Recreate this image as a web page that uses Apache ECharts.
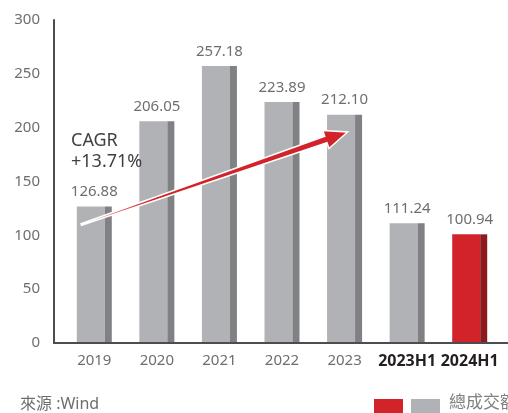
<!DOCTYPE html>
<html>
<head>
<meta charset="utf-8">
<script src="https://cdn.jsdelivr.net/npm/echarts@6/dist/echarts.min.js"></script>
<style>
  html, body { margin: 0; padding: 0; background: #fff; }
  #chart { width: 508px; height: 413px; }
</style>
</head>
<body>
<div id="chart"></div>
<script>
// data
const categories = ['2019', '2020', '2021', '2022', '2023', '2023H1', '2024H1'];
const turnover = [126.88, 206.05, 257.18, 223.89, 212.10, 111.24, 100.94];
const boldCats = ['2023H1', '2024H1'];
const highlightIndex = 6;
const yTicks = [0, 50, 100, 150, 200, 250, 300];
const cagrText = 'CAGR\n+13.71%';
const legendName = '總成交額';
const sourceText = '來源 :Wind';

const font = "'Noto Sans', 'Noto Sans CJK TC', sans-serif";
const textGray = '#6d6e71';

const chart = echarts.init(document.getElementById('chart'));

chart.setOption({
  animation: false,
  textStyle: { fontFamily: font },
  grid: { left: 63, right: 7, top: 20, bottom: 70 },
  xAxis: {
    type: 'category',
    data: categories.map(c => boldCats.includes(c)
      ? { value: c, textStyle: { fontWeight: 'bold', color: '#231f20', fontSize: 16 } }
      : c),
    axisLine: { show: false },
    axisTick: { show: false },
    axisLabel: { color: textGray, fontSize: 15, margin: 10, interval: 0 }
  },
  yAxis: {
    type: 'value',
    min: yTicks[0],
    max: yTicks[yTicks.length - 1],
    interval: 50,
    offset: 9,
    axisLine: { show: true, lineStyle: { color: '#4d4d4f', width: 2 } },
    axisTick: { show: false },
    splitLine: { show: false },
    axisLabel: { color: textGray, fontSize: 15, margin: 14 }
  },
  series: [
    {
      name: legendName,
      type: 'bar',
      data: turnover,
      barWidth: 28,
      barGap: '0%',
      itemStyle: {
        color: p => p.dataIndex === highlightIndex ? '#d2232a' : '#b1b2b5'
      },
      label: {
        show: true,
        position: 'top',
        distance: 7,
        offset: [3.5, 0],
        color: textGray,
        fontSize: 15,
        formatter: p => p.value.toFixed(2)
      }
    },
    {
      name: 'side',
      type: 'bar',
      data: turnover,
      barWidth: 7,
      barGap: '0%',
      itemStyle: {
        color: p => p.dataIndex === highlightIndex ? '#8c1a1f' : '#808184'
      }
    }
  ]
});

// annotations placed from data coordinates
const toPx = (i, v) => chart.convertToPixel({ xAxisIndex: 0, yAxisIndex: 0 }, [i, v]);
const zero = toPx(0, 0);
const start = toPx(0, 110); start[0] -= 13;
const tip = toPx(4, 196); tip[0] += 3;

const dx = tip[0] - start[0], dy = tip[1] - start[1];
const len = Math.hypot(dx, dy);
const ux = dx / len, uy = dy / len, nx = -uy, ny = ux;
const headLen = 23;
const base = [tip[0] - ux * headLen, tip[1] - uy * headLen];
const pt = (p, w) => [p[0] + nx * w, p[1] + ny * w];
const arrowPts = [
  pt(start, 0.8), pt(base, 3.4), pt(base, 9.5), tip,
  pt(base, -9.5), pt(base, -3.4), pt(start, -0.8)
];

chart.setOption({
  graphic: [
    {
      type: 'line',
      shape: { x1: 53, y1: zero[1], x2: 508, y2: zero[1] },
      style: { stroke: '#4d4d4f', lineWidth: 2 },
      z: 10
    },
    {
      type: 'polygon',
      shape: { points: arrowPts },
      style: {
        fill: new echarts.graphic.LinearGradient(start[0], start[1], base[0], base[1], [
          { offset: 0, color: '#ffffff' },
          { offset: 0.12, color: '#e8727a' },
          { offset: 0.3, color: '#d2232a' },
          { offset: 1, color: '#d2232a' }
        ], true),
        stroke: '#ffffff',
        lineWidth: 1.5
      },
      z: 20
    },
    {
      type: 'text',
      left: 71,
      top: 130,
      style: { text: cagrText, font: '18px ' + font, fill: '#414042', lineHeight: 21 },
      z: 20
    },
    {
      type: 'text',
      left: 20,
      top: 396,
      style: { text: sourceText, font: '16px ' + font, fill: textGray }
    },
    {
      type: 'rect',
      shape: { x: 374, y: 399, width: 29, height: 16 },
      style: { fill: '#d2232a' }
    },
    {
      type: 'rect',
      shape: { x: 411, y: 399, width: 29, height: 16 },
      style: { fill: '#b1b2b5' }
    },
    {
      type: 'text',
      left: 449,
      top: 395,
      style: { text: legendName, font: '17px ' + font, fill: '#808184' }
    }
  ]
});
</script>
</body>
</html>
